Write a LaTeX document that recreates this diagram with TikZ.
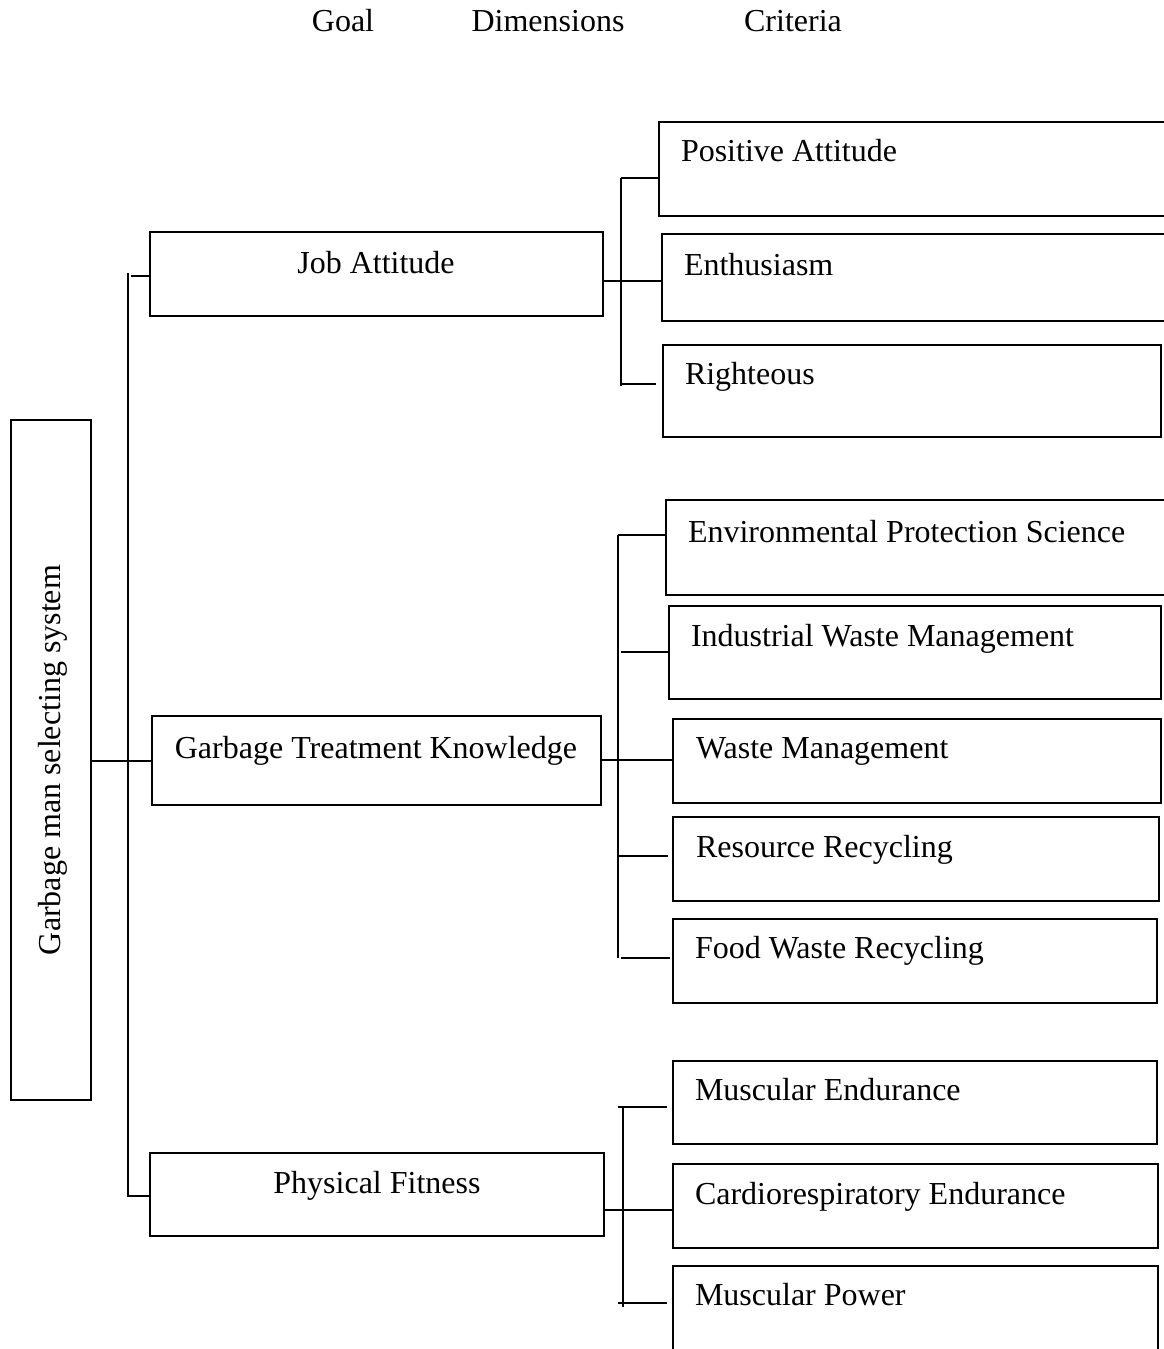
\documentclass[tikz,border=0pt]{standalone}
\usepackage{fontspec}
\setmainfont{Liberation Serif}
\usetikzlibrary{fit}
\begin{document}
\begin{tikzpicture}[x=0.5pt,y=-0.5pt,line width=1pt,
  box/.style={draw,inner sep=0pt,line width=1pt},
  lbl/.style={font=\fontsize{16}{19}\selectfont,inner sep=0pt},
  wire/.style={line width=1pt}]
\useasboundingbox (0,0) rectangle (1163,1349);
% headers
\node[lbl,anchor=base] (hg) at (343,32) {Goal};
\node[lbl,anchor=base] (hd) at (548,32) {Dimensions};
\node[lbl,anchor=base] (hc) at (793,32) {Criteria};
% goal
\node[box,fit={(11,420)(91,1100)}] (gl) {};
\node[lbl,anchor=base,rotate=90] (glt) at (60,760) {Garbage man selecting system};
% dimensions
\node[box,fit={(150,232)(603,316)}] (ja) {};
\node[lbl,anchor=base] (jat) at (376,273) {Job Attitude};
\node[box,fit={(152,716)(601,805)}] (gtk) {};
\node[lbl,anchor=base] (gtkt) at (376,758) {Garbage Treatment Knowledge};
\node[box,fit={(150,1153)(604,1236)}] (pf) {};
\node[lbl,anchor=base] (pft) at (377,1193) {Physical Fitness};
% criteria boxes
\node[box,fit={(659,122)(1175,216)}] (pa) {};
\node[lbl,anchor=base west] (pat) at (680,161) {Positive Attitude};
\node[box,fit={(662,234)(1175,321)}] (en) {};
\node[lbl,anchor=base west] (ent) at (683,275) {Enthusiasm};
\node[box,fit={(663,345)(1161,437)}] (ri) {};
\node[lbl,anchor=base west] (rit) at (684,384) {Righteous};
\node[box,fit={(666,500)(1175,595)}] (ep) {};
\node[lbl,anchor=base west] (ept) at (687,542) {Environmental Protection Science};
\node[box,fit={(669,606)(1161,699)}] (iw) {};
\node[lbl,anchor=base west] (iwt) at (690,646) {Industrial Waste Management};
\node[box,fit={(673,719)(1161,803)}] (wm) {};
\node[lbl,anchor=base west] (wmt) at (695,758) {Waste Management};
\node[box,fit={(673,817)(1159,901)}] (rr) {};
\node[lbl,anchor=base west] (rrt) at (695,857) {Resource Recycling};
\node[box,fit={(673,919)(1157,1003)}] (fw) {};
\node[lbl,anchor=base west] (fwt) at (694,958) {Food Waste Recycling};
\node[box,fit={(673,1061)(1157,1144)}] (me) {};
\node[lbl,anchor=base west] (met) at (694,1100) {Muscular Endurance};
\node[box,fit={(673,1164)(1158,1248)}] (ce) {};
\node[lbl,anchor=base west] (cet) at (694,1204) {Cardiorespiratory Endurance};
\node[box,fit={(673,1266)(1158,1370)}] (mp) {};
\node[lbl,anchor=base west] (mpt) at (694,1305) {Muscular Power};
% level 1 connectors
\coordinate (b1a) at (128,273);
\coordinate (b1b) at (128,1197);
\coordinate (s1a) at (131,276);
\coordinate (s1c) at (128,1196);
\draw[wire] (b1a) -- (b1b);
\draw[wire] (s1a) -- (ja.west |- s1a);
\draw[wire] (gtk.west -| gl.east) -- (gtk.west);
\draw[wire] (s1c) -- (pf.west |- s1c);
% group 1
\coordinate (g1a) at (621,178);
\coordinate (g1b) at (621,386);
\coordinate (g1m) at (603,281);
\coordinate (g1c) at (621,384);
\coordinate (g1ce) at (656,384);
\draw[wire] (g1a) -- (g1b);
\draw[wire] (g1a) -- (pa.west |- g1a);
\draw[wire] (ja.east |- g1m) -- (en.west |- g1m);
\draw[wire] (g1c) -- (g1ce);
% group 2
\coordinate (g2a) at (618,535);
\coordinate (g2b) at (618,958);
\coordinate (g2i) at (621,652);
\coordinate (g2m) at (601,760);
\coordinate (g2r) at (618,856);
\coordinate (g2re) at (668,856);
\coordinate (g2f) at (621,958);
\coordinate (g2fe) at (670,958);
\draw[wire] (g2a) -- (g2b);
\draw[wire] (g2a) -- (ep.west |- g2a);
\draw[wire] (g2i) -- (iw.west |- g2i);
\draw[wire] (gtk.east |- g2m) -- (wm.west |- g2m);
\draw[wire] (g2r) -- (g2re);
\draw[wire] (g2f) -- (g2fe);
% group 3
\coordinate (g3a) at (623,1107);
\coordinate (g3b) at (623,1307);
\coordinate (g3t) at (618,1107);
\coordinate (g3te) at (667,1107);
\coordinate (g3m) at (604,1210);
\coordinate (g3c) at (618,1303);
\coordinate (g3ce) at (667,1303);
\draw[wire] (g3a) -- (g3b);
\draw[wire] (g3t) -- (g3te);
\draw[wire] (pf.east |- g3m) -- (ce.west |- g3m);
\draw[wire] (g3c) -- (g3ce);
\end{tikzpicture}
\end{document}
